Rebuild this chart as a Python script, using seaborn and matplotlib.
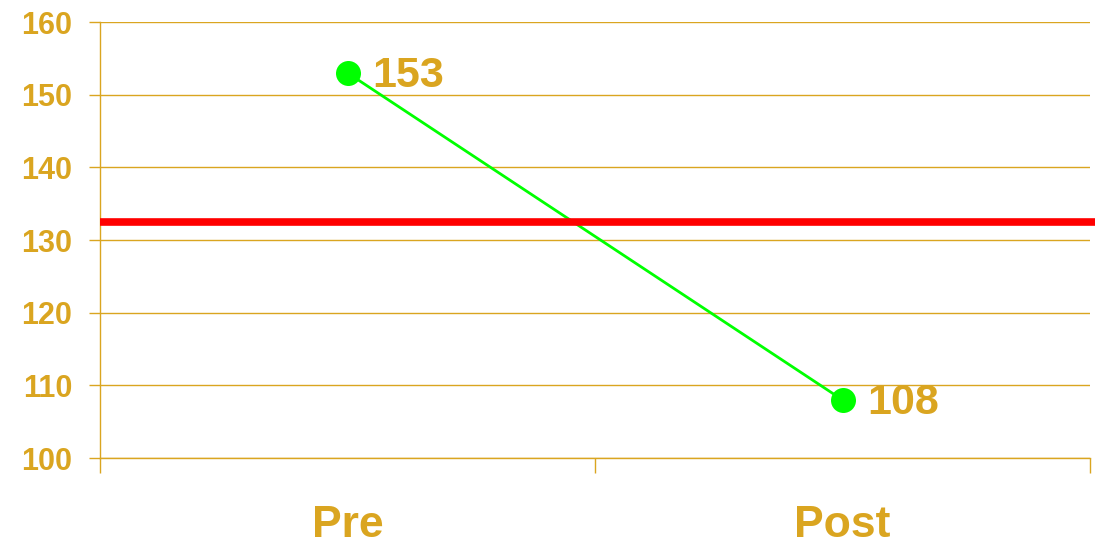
import matplotlib
matplotlib.use("Agg")
import matplotlib.pyplot as plt
import seaborn as sns
import pandas as pd

stages = ["Pre", "Post"]
scores = [153, 108]
reference = 132.5

gold = "#DAA520"

sns.set_style("white")
plt.rcParams['font.family'] = ['Liberation Sans', 'DejaVu Sans']
plt.rcParams['font.weight'] = 'bold'

df = pd.DataFrame({"stage": stages, "score": scores})

fig = plt.figure(figsize=(10.95, 5.52), dpi=100)
ax = fig.add_axes([100 / 1095, 1 - 458 / 552, 990 / 1095, 436 / 552])

sns.lineplot(data=df, x="stage", y="score", ax=ax, color="#00FF00", lw=2,
             marker="o", markersize=18, markeredgewidth=0, sort=False)

# reference line
ax.axhline(reference, color="#FF0000", lw=5.5, xmax=1.006, clip_on=False,
           solid_capstyle="butt", zorder=3)

for i, v in enumerate(scores):
    ax.annotate(str(v), (i, v), xytext=(18, -2), textcoords="offset points",
                ha="left", va="center", fontsize=31, fontweight="bold", color=gold)

ax.set_ylim(100, 160)
ax.set_yticks(range(100, 161, 10))
ax.set_xlim(-0.5, 1.5)
ax.set_xticks([-0.5, 0.5, 1.5])
ax.set_xticklabels([])
ax.set_xticks([0, 1], minor=True)
ax.set_xticklabels(stages, minor=True)
ax.tick_params(bottom=True, left=True, which="both")
ax.tick_params(axis="x", which="major", length=11, width=1, color=gold)
ax.tick_params(axis="x", which="minor", length=0, pad=34, labelsize=32, labelcolor=gold)
ax.tick_params(axis="y", length=8, width=1, color=gold, pad=12, labelsize=22, labelcolor=gold)

ax.grid(axis="y", color=gold, lw=1)
ax.set_axisbelow(True)
ax.set_xlabel("")
ax.set_ylabel("")
for s in ["top", "right"]:
    ax.spines[s].set_visible(False)
for s in ["left", "bottom"]:
    ax.spines[s].set_color(gold)
    ax.spines[s].set_linewidth(1)

fig.savefig("out.png", dpi=100)
